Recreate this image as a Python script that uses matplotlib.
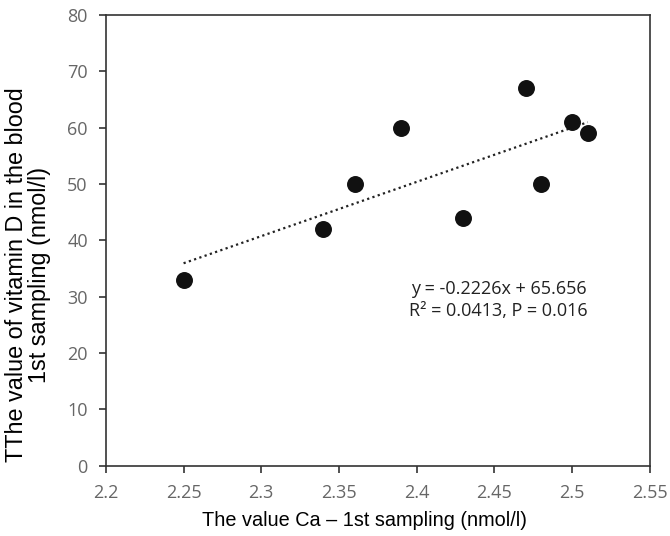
import numpy as np
import matplotlib.pyplot as plt

# data
ca_values = [2.25, 2.34, 2.36, 2.39, 2.43, 2.47, 2.48, 2.50, 2.51]
vit_d = [33, 42, 50, 60, 44, 67, 50, 61, 59]
x_ticks = [2.2, 2.25, 2.3, 2.35, 2.4, 2.45, 2.5, 2.55]
y_ticks = [0, 10, 20, 30, 40, 50, 60, 70, 80]
eq_text = "y = -0.2226x + 65.656\nR² = 0.0413, P = 0.016"

fig = plt.figure(figsize=(6.7, 5.36), dpi=100)
ax = fig.add_axes([0.158, 0.131, 0.812, 0.841])

# trend line through the points
coef = np.polyfit(ca_values, vit_d, 1)
xs = np.array([min(ca_values), max(ca_values)])
ax.plot(xs, np.polyval(coef, xs), color='#222222', linestyle=(0, (1, 1.5)), linewidth=1.6, zorder=2)

ax.scatter(ca_values, vit_d, s=125, color='#111111', zorder=3)

ax.set_xlim(2.2, 2.55)
ax.set_ylim(0, 80)
ax.set_xticks(x_ticks)
ax.set_xticklabels([f"{t:g}" for t in x_ticks])
ax.set_yticks(y_ticks)

for sp in ax.spines.values():
    sp.set_color('#333333')
    sp.set_linewidth(1.2)
ax.tick_params(direction='out', length=5, width=1.2, color='#333333',
               labelsize=13, labelcolor='#666666')
ax.tick_params(axis='y', pad=8)
ax.tick_params(axis='x', pad=8)
for lab in ax.get_xticklabels() + ax.get_yticklabels():
    lab.set_family('Open Sans')

ax.set_xlabel("The value Ca – 1st sampling (nmol/l)", fontsize=14.3,
              family='Liberation Sans')
ax.xaxis.set_label_coords(0.475, -0.1)
ax.set_ylabel("TThe value of vitamin D in the blood\n1st sampling (nmol/l)",
              fontsize=16.8, family='Liberation Sans', linespacing=1.0)
ax.yaxis.set_label_coords(-0.1, 0.424)

ax.text(2.4528, 29.4, eq_text, ha='center', va='center', fontsize=13,
        family='Open Sans', color='#222222', linespacing=1.25)

fig.savefig("out.png", dpi=100)
